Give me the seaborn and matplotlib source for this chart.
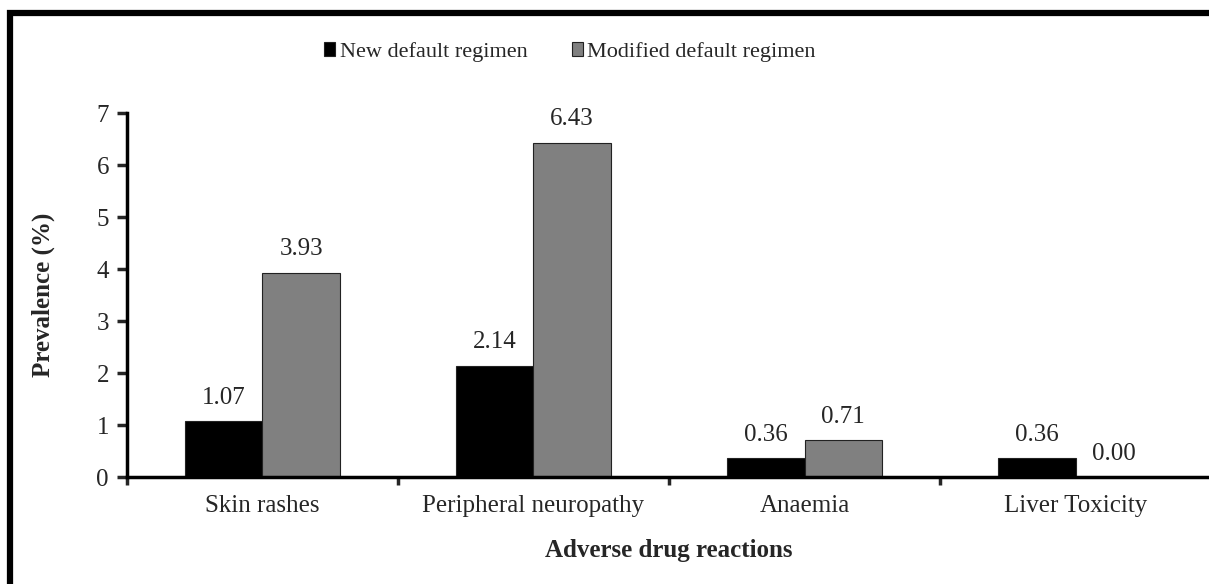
import matplotlib.pyplot as plt
from matplotlib.patches import Rectangle
from matplotlib.ticker import FixedLocator
import seaborn as sns
import pandas as pd

sns.set_style("white")
plt.rcParams["font.family"] = ["Liberation Serif", "DejaVu Serif"]

# data
reactions = ["Skin rashes", "Peripheral neuropathy", "Anaemia", "Liver Toxicity"]
new_default = [1.07, 2.14, 0.36, 0.36]
modified_default = [3.93, 6.43, 0.71, 0.00]
series_names = ["New default regimen", "Modified default regimen"]

df = pd.DataFrame({
    "Reaction": reactions * 2,
    "Prevalence": new_default + modified_default,
    "Regimen": [series_names[0]] * 4 + [series_names[1]] * 4,
})

fig = plt.figure(figsize=(12.09, 5.84), dpi=100)
ax = fig.add_axes([0.105, 0.1832, 0.8967, 0.6233])

sns.barplot(
    data=df, x="Reaction", y="Prevalence", hue="Regimen",
    order=reactions, hue_order=series_names,
    palette=["#000000", "#808080"], width=0.57,
    edgecolor="#222222", linewidth=0.8, ax=ax,
)

for cont in ax.containers:
    ax.bar_label(cont, fmt="%.2f", padding=9, fontsize=18)

ax.set_ylim(0, 7)
ax.set_xlim(-0.5, 3.5)
ax.set_yticks(range(8))
ax.tick_params(axis="y", direction="out", length=7, width=2.5, labelsize=18, pad=6, left=True)
ax.tick_params(axis="x", which="major", length=0, labelsize=18, pad=13)
ax.xaxis.set_minor_locator(FixedLocator([-0.5, 0.5, 1.5, 2.5, 3.5]))
ax.tick_params(axis="x", which="minor", direction="out", length=6, width=2.5, bottom=True)

for side in ["top", "right"]:
    ax.spines[side].set_visible(False)
for side in ["left", "bottom"]:
    ax.spines[side].set_linewidth(2.5)
    ax.spines[side].set_color("black")
ax.spines["bottom"].set_clip_on(False)

ax.set_ylabel("Prevalence (%)", fontsize=18, fontweight="bold", labelpad=30)
ax.set_xlabel("Adverse drug reactions", fontsize=18, fontweight="bold", labelpad=16)

handles, labels = ax.get_legend_handles_labels()
ax.legend_.remove()
fig.legend(
    handles, labels, loc="center", bbox_to_anchor=(570 / 1209, 0.911),
    ncol=2, frameon=False, fontsize=16, handlelength=0.5, handleheight=0.55,
    handletextpad=0.2, columnspacing=2.0,
)

# outer frame (cropped on right and bottom)
fig.patches.append(Rectangle(
    (0.0083, -0.1), 1.2, 0.978 + 0.1, transform=fig.transFigure,
    fill=False, edgecolor="black", linewidth=4.5, clip_on=False,
))

fig.savefig("out.png", dpi=100)
plt.close()
